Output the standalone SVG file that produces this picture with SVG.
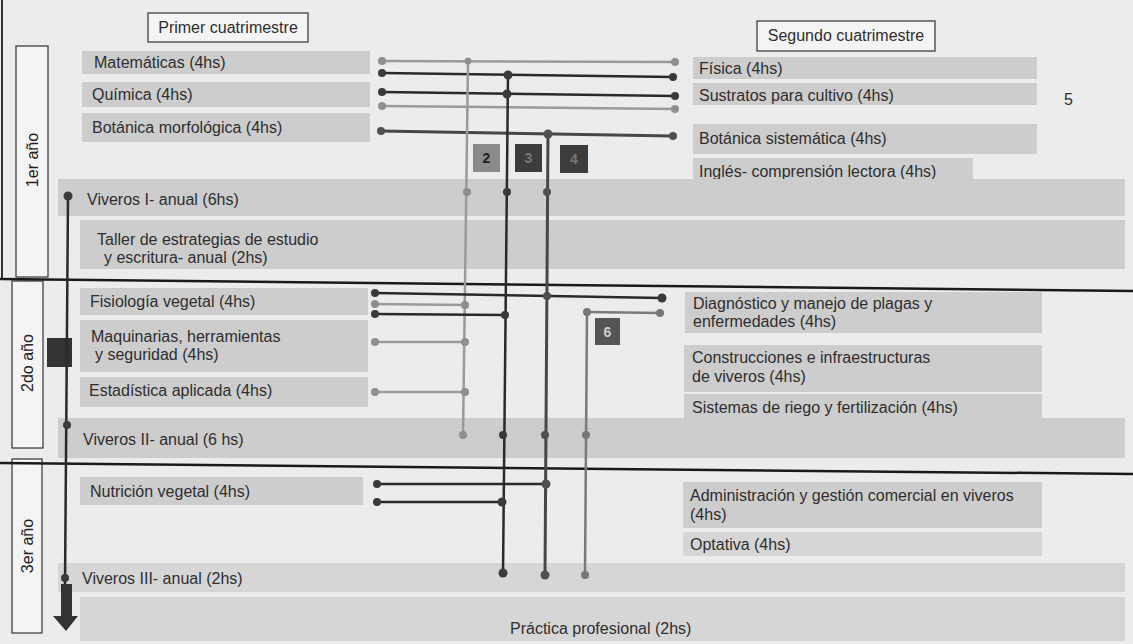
<svg xmlns="http://www.w3.org/2000/svg" width="1133" height="644" viewBox="0 0 1133 644">
<style>
.bar{fill:#cdcdcd}
.bar2{fill:#d6d6d6}
.t{font-family:"Liberation Sans",Arial,sans-serif;font-size:16px;fill:#2e2e2e}
.yr{font-family:"Liberation Sans",Arial,sans-serif;font-size:16px;fill:#222}
.box{fill:#f4f4f4;stroke:#333;stroke-width:1.2}
.sep{stroke:#1a1a1a;stroke-width:2.5}
.lg{stroke:#9a9a9a;stroke-width:2.5;fill:none}
.lk{stroke:#2a2a2a;stroke-width:2.5;fill:none}
.ld{stroke:#474747;stroke-width:3;fill:none}
.lm{stroke:#7a7a7a;stroke-width:2.5;fill:none}
.dg{fill:#8f8f8f}
.dk{fill:#3a3a3a}
.dd{fill:#505050}
.dm{fill:#777}
.num{font-family:"Liberation Sans",Arial,sans-serif;font-size:14px;font-weight:bold;text-anchor:middle}
</style>
<rect x="0" y="0" width="1133" height="644" fill="#ececec"/>
<line x1="2" y1="0" x2="2" y2="278" stroke="#333" stroke-width="2"/>

<g id="headers">
<rect class="box" x="148" y="13" width="160" height="29"/>
<text class="t" x="228" y="33" text-anchor="middle">Primer cuatrimestre</text>
<rect class="box" x="757" y="21" width="178" height="30"/>
<text class="t" x="846" y="41" text-anchor="middle">Segundo  cuatrimestre</text>
</g>

<g id="years">
<rect class="box" x="16" y="46" width="32" height="231"/>
<text class="yr" transform="translate(38,160) rotate(-90)" text-anchor="middle">1er año</text>
<rect class="box" x="12" y="281" width="31" height="167"/>
<text class="yr" transform="translate(33,363) rotate(-90)" text-anchor="middle">2do año</text>
<rect class="box" x="12" y="459" width="30" height="174"/>
<text class="yr" transform="translate(33,546) rotate(-90)" text-anchor="middle">3er año</text>
</g>

<g id="separators">
<line class="sep" x1="0" y1="279" x2="1133" y2="291"/>
<line class="sep" x1="0" y1="463" x2="1133" y2="474"/>
</g>

<g id="matematicas"><rect class="bar" x="82" y="51" width="288" height="23"/><text class="t" x="94" y="68">Matemáticas (4hs)</text></g>
<g id="quimica"><rect class="bar" x="82" y="82" width="288" height="25"/><text class="t" x="92" y="100">Química  (4hs)</text></g>
<g id="botanica-morfologica"><rect class="bar" x="82" y="113" width="288" height="29"/><text class="t" x="92" y="133">Botánica morfológica (4hs)</text></g>

<g id="fisica"><rect class="bar" x="693" y="57" width="344" height="22"/><text class="t" x="699" y="74">Física  (4hs)</text></g>
<g id="sustratos"><rect class="bar" x="693" y="83" width="344" height="22"/><text class="t" x="699" y="101">Sustratos para cultivo (4hs)</text><text class="t" x="1064" y="105">5</text></g>
<g id="botanica-sistematica"><rect class="bar" x="693" y="124" width="344" height="30"/><text class="t" x="699" y="144">Botánica sistemática  (4hs)</text></g>
<g id="ingles"><rect class="bar" x="693" y="158" width="280" height="26"/><text class="t" x="699" y="177">Inglés- comprensión lectora  (4hs)</text></g>

<g id="viveros-1"><rect class="bar" x="58" y="179" width="1067" height="37"/><text class="t" x="87" y="205">Viveros I- anual (6hs)</text></g>
<g id="taller"><rect class="bar" x="80" y="220" width="1045" height="49"/><text class="t" x="97" y="245">Taller de estrategias de estudio</text><text class="t" x="104" y="263">y escritura-  anual  (2hs)</text></g>

<g id="fisiologia"><rect class="bar" x="80" y="288" width="288" height="27"/><text class="t" x="90" y="307">Fisiología  vegetal (4hs)</text></g>
<g id="maquinarias"><rect class="bar" x="80" y="320" width="288" height="52"/><text class="t" x="91" y="342">Maquinarias, herramientas</text><text class="t" x="95" y="360">y seguridad (4hs)</text></g>
<g id="estadistica"><rect class="bar" x="80" y="377" width="288" height="30"/><text class="t" x="89" y="396">Estadística aplicada  (4hs)</text></g>

<g id="diagnostico"><rect class="bar" x="685" y="292" width="357" height="41"/><text class="t" x="693" y="309">Diagnóstico  y manejo de plagas y</text><text class="t" x="693" y="327">enfermedades (4hs)</text></g>
<g id="construcciones"><rect class="bar" x="684" y="345" width="358" height="47"/><text class="t" x="692" y="363">Construcciones e infraestructuras</text><text class="t" x="692" y="382">de viveros (4hs)</text></g>
<g id="sistemas"><rect class="bar" x="684" y="394" width="358" height="28"/><text class="t" x="692" y="413">Sistemas de riego y fertilización (4hs)</text></g>

<g id="viveros-2"><rect class="bar" x="58" y="418" width="1067" height="40"/><text class="t" x="83" y="445">Viveros II- anual (6 hs)</text></g>

<g id="nutricion"><rect class="bar" x="80" y="477" width="283" height="28"/><text class="t" x="90" y="497">Nutrición vegetal  (4hs)</text></g>
<g id="administracion"><rect class="bar" x="683" y="482" width="359" height="46"/><text class="t" x="690" y="501">Administración  y gestión comercial en viveros</text><text class="t" x="690" y="520">(4hs)</text></g>
<g id="optativa"><rect class="bar2" x="683" y="532" width="359" height="24"/><text class="t" x="690" y="550">Optativa (4hs)</text></g>

<g id="viveros-3"><rect class="bar2" x="58" y="563" width="1067" height="29"/><text class="t" x="82" y="584">Viveros III- anual (2hs)</text></g>
<g id="practica"><rect class="bar2" x="80" y="597" width="1045" height="44"/><text class="t" x="510" y="634">Práctica  profesional (2hs)</text></g>

<g id="labels">
<rect x="473" y="144" width="27" height="28" fill="#8a8a8a"/><text class="num" x="486.5" y="163" fill="#222">2</text>
<rect x="515" y="144" width="27" height="28" fill="#3c3c3c"/><text class="num" x="528.5" y="163" fill="#777">3</text>
<rect x="560" y="145" width="28" height="28" fill="#3c3c3c"/><text class="num" x="574" y="164" fill="#777">4</text>
<rect x="595" y="318" width="25" height="27" fill="#555"/><text class="num" x="607.5" y="337" fill="#ccc">6</text>
<rect x="47" y="338" width="25" height="29" fill="#333"/>
</g>

<g id="connectors">
<line class="lk" x1="68" y1="196" x2="65" y2="586"/>
<polygon points="61,584 72,584 72,616 78,616 66,631 53,616 61,616" fill="#333"/>
<circle class="dk" cx="68" cy="196" r="4.5"/>
<circle class="dk" cx="67" cy="425" r="4"/>
<circle class="dk" cx="65" cy="578" r="4"/>

<line class="lg" x1="382" y1="61" x2="675" y2="62"/>
<line class="lk" x1="382" y1="73" x2="673" y2="77"/>
<line class="lk" x1="382" y1="92" x2="675" y2="96"/>
<line class="lg" x1="382" y1="106" x2="675" y2="109"/>
<line class="ld" x1="381" y1="131" x2="673" y2="136"/>
<line class="lg" x1="468" y1="61" x2="463" y2="435"/>
<line class="lk" x1="508" y1="74" x2="503" y2="573"/>
<line class="ld" x1="548" y1="133" x2="545" y2="575"/>
<line class="lm" x1="587" y1="312" x2="585" y2="575"/>
<line class="lm" x1="587" y1="312" x2="660" y2="313"/>

<line class="lk" x1="375" y1="293" x2="662" y2="298"/>
<line class="lg" x1="375" y1="304" x2="465" y2="305"/>
<line class="lk" x1="375" y1="314" x2="505" y2="315"/>
<line class="lg" x1="375" y1="342" x2="465" y2="342"/>
<line class="lg" x1="375" y1="392" x2="465" y2="392"/>
<line class="lk" x1="377" y1="484" x2="547" y2="484"/>
<line class="lk" x1="377" y1="502" x2="502" y2="502"/>

<circle class="dg" cx="382" cy="61" r="4"/><circle class="dg" cx="675" cy="62" r="4"/><circle class="dg" cx="468" cy="61" r="3.5"/>
<circle class="dk" cx="382" cy="73" r="4"/><circle class="dk" cx="673" cy="77" r="4"/><circle class="dk" cx="508" cy="75" r="4.5"/>
<circle class="dk" cx="382" cy="92" r="4"/><circle class="dk" cx="675" cy="96" r="4"/><circle class="dk" cx="507" cy="94" r="4.5"/>
<circle class="dg" cx="382" cy="106" r="4"/><circle class="dg" cx="675" cy="109" r="4"/>
<circle class="dd" cx="381" cy="131" r="4"/><circle class="dd" cx="673" cy="136" r="4"/><circle class="dd" cx="548" cy="134" r="4.5"/>
<circle class="dg" cx="467" cy="192" r="4"/><circle class="dk" cx="507" cy="192" r="4"/><circle class="dd" cx="547" cy="192" r="4"/>

<circle class="dk" cx="375" cy="293" r="4"/><circle class="dk" cx="662" cy="298" r="4.5"/><circle class="dd" cx="547" cy="296" r="4"/>
<circle class="dg" cx="375" cy="304" r="4"/><circle class="dg" cx="465" cy="305" r="4"/>
<circle class="dk" cx="375" cy="314" r="4"/><circle class="dk" cx="505" cy="315" r="4"/>
<circle class="dm" cx="587" cy="312" r="4"/><circle class="dm" cx="660" cy="313" r="4"/>
<circle class="dg" cx="375" cy="342" r="4"/><circle class="dg" cx="465" cy="342" r="4"/>
<circle class="dg" cx="375" cy="392" r="4"/><circle class="dg" cx="465" cy="392" r="4"/>
<circle class="dg" cx="463" cy="435" r="4"/><circle class="dk" cx="503" cy="435" r="4"/><circle class="dd" cx="545" cy="435" r="4"/><circle class="dm" cx="586" cy="435" r="4"/>

<circle class="dk" cx="377" cy="484" r="4"/><circle class="dd" cx="546" cy="484" r="4.5"/>
<circle class="dk" cx="377" cy="502" r="4"/><circle class="dk" cx="502" cy="502" r="4.5"/>
<circle class="dk" cx="503" cy="573" r="4.5"/><circle class="dd" cx="545" cy="575" r="4.5"/><circle class="dm" cx="585" cy="575" r="4"/>
</g>
</svg>
